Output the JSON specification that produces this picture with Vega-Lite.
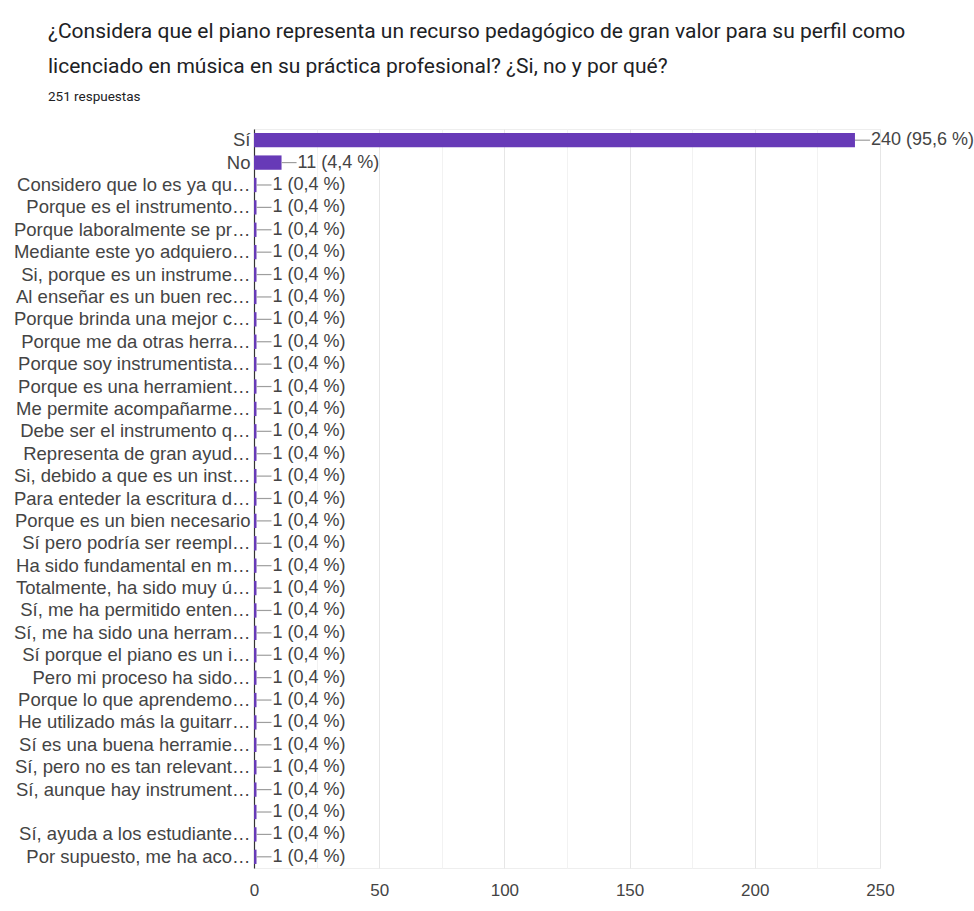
{
  "$schema": "https://vega.github.io/schema/vega-lite/v6.json",
  "autosize": {"type": "none"},
  "width": 626,
  "height": 739,
  "padding": {"left": 254, "top": 129, "right": 94, "bottom": 43},
  "background": "white",
  "title": {
    "text": ["¿Considera que el piano representa un recurso pedagógico de gran valor para su perfil como", "licenciado en música en su práctica profesional? ¿Si, no y por qué?"],
    "subtitle": "251 respuestas",
    "anchor": "start",
    "frame": "group",
    "dx": -206,
    "font": "Roboto",
    "fontSize": 21,
    "fontWeight": "normal",
    "color": "#202124",
    "lineHeight": 35,
    "subtitleFont": "Roboto",
    "subtitleFontSize": 13.5,
    "subtitleColor": "#202124",
    "subtitlePadding": 13,
    "offset": 26
  },
  "data": {
    "values": [
      {"respuesta": "Sí", "n": 240, "etiqueta": "240 (95,6 %)"},
      {"respuesta": "No", "n": 11, "etiqueta": "11 (4,4 %)"},
      {"respuesta": "Considero que lo es ya qu…", "n": 1, "etiqueta": "1 (0,4 %)"},
      {"respuesta": "Porque es el instrumento…", "n": 1, "etiqueta": "1 (0,4 %)"},
      {"respuesta": "Porque laboralmente se pr…", "n": 1, "etiqueta": "1 (0,4 %)"},
      {"respuesta": "Mediante este yo adquiero…", "n": 1, "etiqueta": "1 (0,4 %)"},
      {"respuesta": "Si, porque es un instrume…", "n": 1, "etiqueta": "1 (0,4 %)"},
      {"respuesta": "Al enseñar es un buen rec…", "n": 1, "etiqueta": "1 (0,4 %)"},
      {"respuesta": "Porque brinda una mejor c…", "n": 1, "etiqueta": "1 (0,4 %)"},
      {"respuesta": "Porque me da otras herra…", "n": 1, "etiqueta": "1 (0,4 %)"},
      {"respuesta": "Porque soy instrumentista…", "n": 1, "etiqueta": "1 (0,4 %)"},
      {"respuesta": "Porque es una herramient…", "n": 1, "etiqueta": "1 (0,4 %)"},
      {"respuesta": "Me permite acompañarme…", "n": 1, "etiqueta": "1 (0,4 %)"},
      {"respuesta": "Debe ser el instrumento q…", "n": 1, "etiqueta": "1 (0,4 %)"},
      {"respuesta": "Representa de gran ayud…", "n": 1, "etiqueta": "1 (0,4 %)"},
      {"respuesta": "Si, debido a que es un inst…", "n": 1, "etiqueta": "1 (0,4 %)"},
      {"respuesta": "Para enteder la escritura d…", "n": 1, "etiqueta": "1 (0,4 %)"},
      {"respuesta": "Porque es un bien necesario", "n": 1, "etiqueta": "1 (0,4 %)"},
      {"respuesta": "Sí pero podría ser reempl…", "n": 1, "etiqueta": "1 (0,4 %)"},
      {"respuesta": "Ha sido fundamental en m…", "n": 1, "etiqueta": "1 (0,4 %)"},
      {"respuesta": "Totalmente, ha sido muy ú…", "n": 1, "etiqueta": "1 (0,4 %)"},
      {"respuesta": "Sí, me ha permitido enten…", "n": 1, "etiqueta": "1 (0,4 %)"},
      {"respuesta": "Sí, me ha sido una herram…", "n": 1, "etiqueta": "1 (0,4 %)"},
      {"respuesta": "Sí porque el piano es un i…", "n": 1, "etiqueta": "1 (0,4 %)"},
      {"respuesta": "Pero mi proceso ha sido…", "n": 1, "etiqueta": "1 (0,4 %)"},
      {"respuesta": "Porque lo que aprendemo…", "n": 1, "etiqueta": "1 (0,4 %)"},
      {"respuesta": "He utilizado más la guitarr…", "n": 1, "etiqueta": "1 (0,4 %)"},
      {"respuesta": "Sí es una buena herramie…", "n": 1, "etiqueta": "1 (0,4 %)"},
      {"respuesta": "Sí, pero no es tan relevant…", "n": 1, "etiqueta": "1 (0,4 %)"},
      {"respuesta": "Sí, aunque hay instrument…", "n": 1, "etiqueta": "1 (0,4 %)"},
      {"respuesta": " ", "n": 1, "etiqueta": "1 (0,4 %)"},
      {"respuesta": "Sí, ayuda a los estudiante…", "n": 1, "etiqueta": "1 (0,4 %)"},
      {"respuesta": "Por supuesto, me ha aco…", "n": 1, "etiqueta": "1 (0,4 %)"}
    ]
  },
  "encoding": {
    "y": {
      "field": "respuesta",
      "type": "nominal",
      "sort": null,
      "title": null,
      "scale": {"paddingInner": 0.36, "paddingOuter": 0.18},
      "axis": {
        "domainColor": "#333333",
        "domainWidth": 1.2,
        "ticks": false,
        "labelPadding": 4,
        "labelFont": "Liberation Sans",
        "labelFontSize": 18.5,
        "labelColor": "#444444",
        "labelLimit": 0,
        "grid": false
      }
    },
    "x": {
      "field": "n",
      "type": "quantitative",
      "title": null,
      "scale": {"domain": [0, 250], "nice": false},
      "axis": {
        "values": [0, 25, 50, 75, 100, 125, 150, 175, 200, 225, 250],
        "labelExpr": "datum.value % 50 === 0 ? datum.label : ''",
        "labelFlush": false,
        "domain": false,
        "ticks": false,
        "labelPadding": 14,
        "labelFont": "Liberation Sans",
        "labelFontSize": 17,
        "labelColor": "#444444",
        "grid": true,
        "gridColor": {"condition": {"test": "datum.value % 50 === 0", "value": "#e6e6e6"}, "value": "#f2f2f2"}
      }
    }
  },
  "layer": [
    {"mark": {"type": "bar", "color": "#673ab7"}},
    {
      "mark": {"type": "rule", "color": "#9e9e9e", "strokeWidth": 1.2, "x2Offset": 15},
      "encoding": {"x2": {"field": "n"}}
    },
    {
      "mark": {"type": "text", "align": "left", "baseline": "middle", "dx": 16, "font": "Liberation Sans", "fontSize": 18, "color": "#444444"},
      "encoding": {"text": {"field": "etiqueta"}}
    }
  ],
  "config": {
    "view": {"stroke": "#eeeeee"}
  }
}
